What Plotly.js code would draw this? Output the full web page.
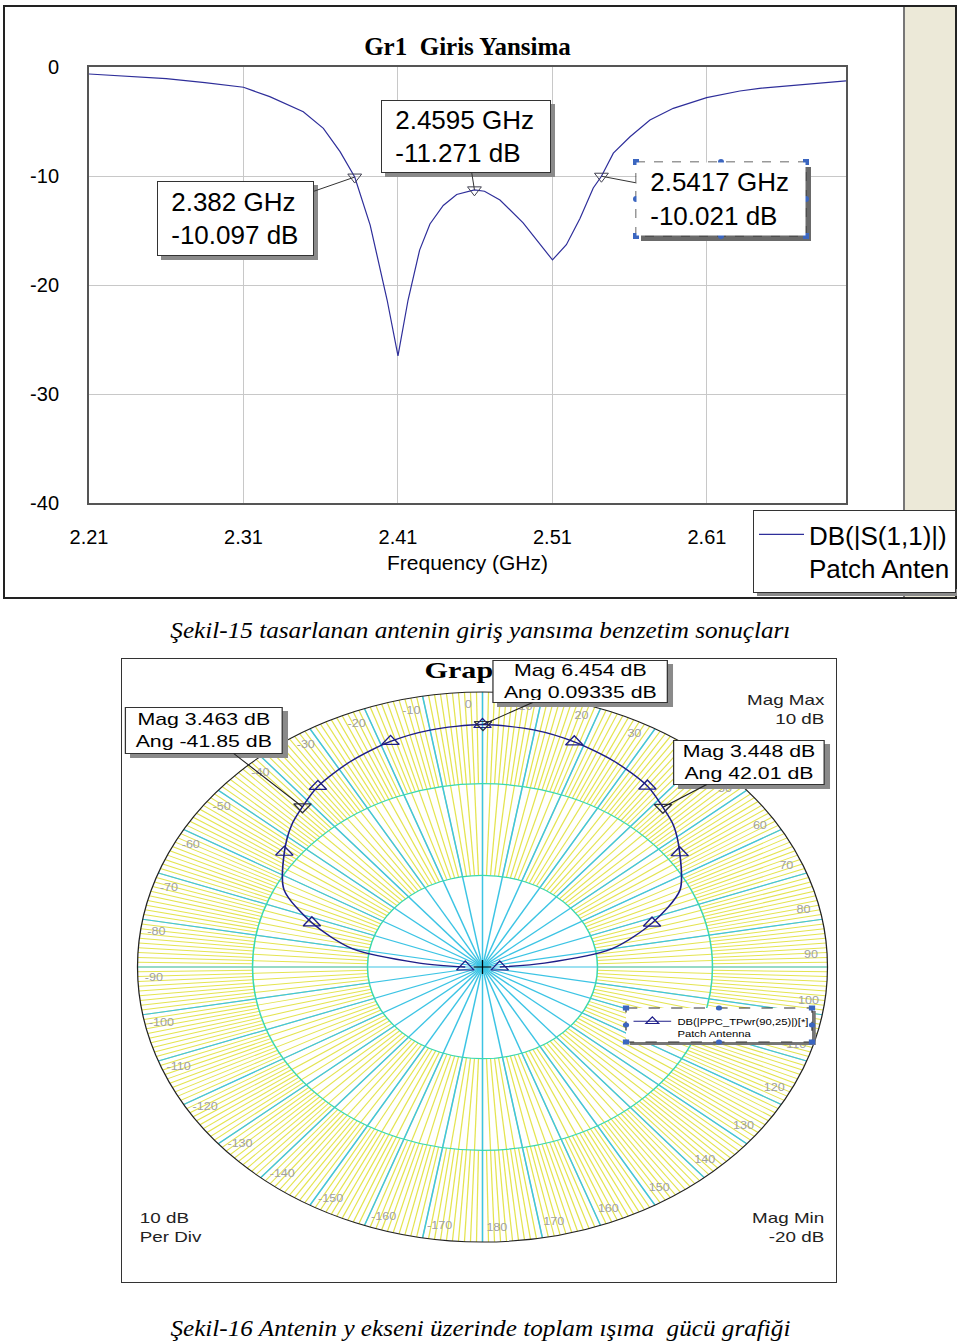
<!DOCTYPE html>
<html><head><meta charset="utf-8">
<script src="https://cdn.plot.ly/plotly-3.0.1.min.js"></script>
<style>
body{margin:0;width:960px;height:1343px;position:relative;background:#fff;overflow:hidden;font-family:"Liberation Sans",Arial,sans-serif}
#frame1{position:absolute;left:3px;top:5px;width:950px;height:590px;border:2px solid #222;}
#strip{position:absolute;left:903px;top:7px;width:50px;height:590px;background:#ece9d8;border-left:2px solid #777;}
#top{position:absolute;left:0;top:0;width:957px;height:605px;}
#frame2{position:absolute;left:121px;top:658px;width:714px;height:623px;border:1px solid #333;}
#bottom{position:absolute;left:121px;top:658px;width:570px;height:624px;transform:scaleX(1.2545);transform-origin:0 0;}
.cap{position:absolute;left:0;width:960px;text-align:center;white-space:pre;font-family:"Liberation Serif","Times New Roman",serif;font-style:italic;font-size:24px;line-height:26px;color:#000}
.cap span{display:inline-block;transform-origin:50% 50%;}
</style></head>
<body>
<div id="frame1"></div>
<div id="strip"></div>
<div id="top"></div>
<div class="cap" id="cap1" style="top:617px"><span>Şekil-15 tasarlanan antenin giriş yansıma benzetim sonuçları</span></div>
<div id="frame2"></div>
<div id="bottom"></div>
<div class="cap" id="cap2" style="top:1315px"><span>Şekil-16 Antenin y ekseni üzerinde toplam ışıma  gücü grafiği</span></div>
<script>
// ================= DATA =================
// Chart 1: input reflection S11 (dB) vs frequency (GHz)
const freqGHz = [2.21,2.26,2.285,2.31,2.327,2.3487,2.3617,2.3725,2.382,2.3897,2.392,2.403,2.41,2.4165,2.424,2.4307,2.4393,2.448,2.4595,2.466,2.476,2.491,2.51,2.519,2.5278,2.5364,2.5417,2.5494,2.5602,2.5731,2.5882,2.6098,2.6313,2.644,2.668,2.70];
const s11dB = [-0.64,-1.07,-1.43,-1.86,-2.72,-4.10,-5.63,-7.77,-10.097,-13.6,-14.5,-21.4,-26.5,-21.4,-16.8,-14.4,-12.7,-11.7,-11.271,-11.4,-12.2,-14.3,-17.7,-16.3,-13.9,-11.1,-10.021,-7.9,-6.4,-4.86,-3.79,-2.81,-2.2,-1.96,-1.65,-1.28];
const markerFreq = [2.382, 2.4595, 2.5417];
const markerDb = [-10.097, -11.271, -10.021];
const s11Name = "DB(|S(1,1)|)<br>Patch Anten";
const freqTickStart = 2.21, freqTickStep = 0.1;
const yTickVals = [0, -10, -20, -30, -40];
const yTickText = ['0', '-10', '-20', '-30', '-40'];

// Chart 2: radiation pattern (dB) vs angle (deg)
const patternAngDeg = [-90,-85.5,-80,-72,-64,-54,-47,-41.85,-36,-27,-18,-10,0,10,18,27,36,42.01,47,54,64,72,80,85.5,90];
const patternDb = [-18.5,-14.5,-8.5,-4.4,-0.8,1.3,2.7,3.463,4.35,5.2,5.88,6.25,6.454,6.25,5.83,5.2,4.4,3.448,2.7,1.2,-0.9,-4.5,-8.6,-14.6,-18.5];
const markAngDeg = [-41.85, 0.09335, 42.01];
const markMagDb = [3.463, 6.454, 3.448];
// angle labels visible around the rim (40 is hidden under a marker box in the original)
const angleTickVals = [0,10,20,30,50,60,70,80,90,100,110,120,130,140,150,160,170,180,-10,-20,-30,-40,-50,-60,-70,-80,-90,-100,-110,-120,-130,-140,-150,-160,-170];
const magMin = -20, magMax = 10, magPerDiv = 10;
const patternName = "DB(|PPC_TPwr(90,25)|)[*]<br>Patch Antenna";
const polarTitleVisible = "Grap";

// ================= CHART 1 =================
const FONT = "Liberation Sans, Arial, sans-serif";
const TW = 957, TH = 605, L = 89, R1 = 846, T = 67, B = 503;
const xRange = [2.21, 2.70], yRange = [-40, 0];
const px = X => (X - L) / (R1 - L);
const py = Y => (B - Y) / (B - T);
const headPx = (f, d) => [L + (f - xRange[0]) / (xRange[1] - xRange[0]) * (R1 - L),
                          B - (d - yRange[0]) / (yRange[1] - yRange[0]) * (B - T)];
const NAVY = '#2e2e9a';

function topBox(i, box, dashed) {
  const [x0, y0, x1, y1] = box;
  const h = headPx(markerFreq[i], markerDb[i]);
  const cx = (x0 + x1) / 2, cy = (y0 + y1) / 2;
  const pad = 6;
  return {
    x: markerFreq[i], y: markerDb[i], xref: 'x', yref: 'y',
    ax: cx - h[0], ay: cy - h[1], axref: 'pixel', ayref: 'pixel',
    showarrow: true, arrowhead: 0, arrowwidth: 1, arrowcolor: '#333',
    text: '\u00a0' + markerFreq[i] + ' GHz<br>\u00a0' + markerDb[i] + ' dB',
    font: {family: FONT, size: 26, color: '#000'},
    align: 'left', width: (x1 - x0) - 2 * pad - 2, height: (y1 - y0) - 2 * pad - 2,
    borderpad: pad, bgcolor: '#fff',
    bordercolor: dashed ? 'rgba(0,0,0,0)' : '#333', borderwidth: 1
  };
}
const topBoxes = [[157,181,314,256],[381,100,551,173],[636,162,806,236]];
const topAnns = [topBox(0, topBoxes[0]), topBox(1, topBoxes[1]), topBox(2, topBoxes[2], true)];

const topShapes = [];
function shadowShape(b, fx, fy, off, col) {
  return {type:'rect', xref:'paper', yref:'paper', layer:'above',
    x0: fx(b[0] + off), x1: fx(b[2] + off), y0: fy(b[1] + off), y1: fy(b[3] + off),
    fillcolor: col, line: {width: 0}};
}
topShapes.push(shadowShape(topBoxes[0], px, py, 4, '#8a8a8a'));
topShapes.push(shadowShape(topBoxes[1], px, py, 4, '#8a8a8a'));
topShapes.push(shadowShape(topBoxes[2], px, py, 5, '#6a6a6a'));
function handles(b, fx, fy, shapes, hs) {
  const [x0, y0, x1, y1] = b;
  shapes.push({type:'rect', xref:'paper', yref:'paper', layer:'above',
    x0: fx(x0), x1: fx(x1), y0: fy(y0), y1: fy(y1),
    line: {color:'#333', width:1, dash:'dash'}, fillcolor:'rgba(0,0,0,0)'});
  const mx = (x0 + x1) / 2, my = (y0 + y1) / 2;
  [[x0,y0],[x1,y0],[x0,y1],[x1,y1]].forEach(p => shapes.push({type:'rect', xref:'paper', yref:'paper', layer:'above',
    x0: fx(p[0]-hs), x1: fx(p[0]+hs), y0: fy(p[1]-hs), y1: fy(p[1]+hs), fillcolor:'#3b66c0', line:{width:0}}));
  [[mx,y0],[mx,y1],[x0,my],[x1,my]].forEach(p => shapes.push({type:'circle', xref:'paper', yref:'paper', layer:'above',
    x0: fx(p[0]-hs), x1: fx(p[0]+hs), y0: fy(p[1]-hs), y1: fy(p[1]+hs), fillcolor:'#3b66c0', line:{width:0}}));
}
handles(topBoxes[2], px, py, topShapes, 3);
// legend shadow
topShapes.push({type:'rect', xref:'paper', yref:'paper', layer:'above',
  x0: px(757), x1: px(957), y0: py(589), y1: py(596), fillcolor:'#8a8a8a', line:{width:0}});

const topData = [
  {type:'scatter', mode:'lines', x: freqGHz, y: s11dB, name: s11Name,
   line:{color: NAVY, width: 1.2}, hoverinfo:'x+y'},
  {type:'scatter', mode:'markers', x: markerFreq, y: markerDb, showlegend:false,
   marker:{symbol:'triangle-down-open', size:12, color:'#404050', line:{width:1}}}
];
const topLayout = {
  width: TW, height: TH, autosize: false,
  margin: {l: L, r: TW - R1, t: T, b: TH - B, autoexpand: false},
  paper_bgcolor: 'rgba(0,0,0,0)', plot_bgcolor: '#fff',
  title: {text: '<b>Gr1\u00a0 Giris Yansima</b>', font:{family:'Liberation Serif, Times New Roman, serif', size:25, color:'#000'},
          x: 0.5, xref:'paper', xanchor:'center', y: 1 - 46 / TH, yref:'container', yanchor:'middle'},
  xaxis: {range: xRange, tick0: freqTickStart, dtick: freqTickStep, tickformat: '.2f', ticks:'',
          ticklabelstandoff: 15, tickfont:{family:FONT, size:20, color:'#000'},
          showline:true, mirror:true, linecolor:'#555', linewidth:2,
          showgrid:true, gridcolor:'#c8c8c8', gridwidth:1, zeroline:false,
          title:{text:'Frequency (GHz)', font:{family:FONT, size:21, color:'#000'}, standoff: 8}},
  yaxis: {range: yRange, tickmode:'array', tickvals: yTickVals, ticktext: yTickText, ticks:'', ticklabelstandoff: 24,
          tickfont:{family:FONT, size:20, color:'#000'},
          showline:true, mirror:true, linecolor:'#555', linewidth:2,
          showgrid:true, gridcolor:'#c8c8c8', gridwidth:1, zeroline:false},
  showlegend: true,
  legend: {x: px(753), y: py(510), xanchor:'left', yanchor:'top', bgcolor:'#fff',
           bordercolor:'#333', borderwidth:1, font:{family:FONT, size:26, color:'#000'},
           valign:'top', itemwidth: 45},
  annotations: topAnns,
  shapes: topShapes
};
Plotly.newPlot('top', topData, topLayout, {displayModeBar:false, staticPlot:true});

// ================= CHART 2 =================
const S = 1.2545, BW = 570, BH = 624;
const CX = (482.5 - 121) / S, CY = 967 - 658, RAD = 275;
const toU = X => (X - 121) / S, toV = Y => Y - 658;
const bx = u => u / BW, by = v => 1 - v / BH;
const dom = r => ({x: [(CX - r) / BW, (CX + r) / BW], y: [1 - (CY + r) / BH, 1 - (CY - r) / BH]});
function polarPx(angDeg, db) {
  const rr = (db - magMin) / (magMax - magMin) * RAD, a = angDeg * Math.PI / 180;
  return [CX + rr * Math.sin(a), CY - rr * Math.cos(a)];
}
const PNAVY = '#1e1e88';
const yellowAng = dt => ({rotation:90, direction:'clockwise', tick0:0, dtick:dt, showgrid:true,
  gridcolor:'#e4e450', gridwidth:1, showline:false, showticklabels:false, ticks:''});

const is18 = patternAngDeg.map(a => Math.abs(a % 18) === 0);
const triAng = patternAngDeg.filter((a, i) => is18[i]);
const triDb = patternDb.filter((a, i) => is18[i]);

const botData = [
  {type:'scatterpolar', subplot:'polar', r:[], theta:[], showlegend:false, hoverinfo:'skip'},
  {type:'scatterpolar', subplot:'polar2', r:[], theta:[], showlegend:false, hoverinfo:'skip'},
  {type:'scatterpolar', subplot:'polar3', mode:'lines', r: patternDb, theta: patternAngDeg,
   line:{color: PNAVY, width:1.3, shape:'spline', smoothing:0.8}, showlegend:false},
  {type:'scatterpolar', subplot:'polar3', mode:'text', r: angleTickVals.map(() => magMax - 1.4),
   theta: angleTickVals.map(v => v - 2.5), text: angleTickVals.map(String),
   textfont:{family:FONT, size:10, color:'#a0a0a0'}, showlegend:false, hoverinfo:'skip', cliponaxis:false},
  {type:'scatterpolar', subplot:'polar3', mode:'markers', r: triDb, theta: triAng, showlegend:false,
   marker:{symbol:'triangle-up-open', size:12, color: PNAVY, line:{width:1.2}}},
  {type:'scatterpolar', subplot:'polar3', mode:'markers', r: markMagDb, theta: markAngDeg, showlegend:false,
   marker:{symbol:'triangle-down-open', size:12, color:'#303040', line:{width:1.2}}},
  {type:'scatterpolar', subplot:'polar3', mode:'markers', r:[magMin], theta:[0], showlegend:false,
   marker:{symbol:'cross-thin-open', size:10, color:'#000', line:{width:1, color:'#000'}}},
  {type:'scatterpolar', subplot:'polar3', mode:'lines+markers', r:[null], theta:[null], name: patternName,
   line:{color: PNAVY, width:1}, marker:{symbol:'triangle-up-open', size:9, color: PNAVY, line:{width:1}}}
];

const botBoxes = [[125,707,283,754],[492,660,668,703],[673,740,825,785]];
function botBox(i, b) {
  const u0 = toU(b[0]), u1 = toU(b[2]), v0 = toV(b[1]), v1 = toV(b[3]);
  const h = polarPx(markAngDeg[i], markMagDb[i]);
  const pad = 2;
  return {xref:'paper', yref:'paper', x: bx(h[0]), y: by(h[1]),
    ax: (u0 + u1) / 2 - h[0], ay: (v0 + v1) / 2 - h[1], axref:'pixel', ayref:'pixel',
    showarrow:true, arrowhead:0, arrowwidth:1, arrowcolor:'#222',
    text: 'Mag ' + markMagDb[i] + ' dB<br>Ang ' + markAngDeg[i] + ' dB',
    font:{family:FONT, size:17, color:'#000'}, align:'center',
    width: (u1 - u0) - 2 * pad - 2, height: (v1 - v0) - 2 * pad - 2, borderpad: pad,
    bgcolor:'#fff', bordercolor:'#333', borderwidth:1};
}
const botAnns = [
  {xref:'paper', yref:'paper', x: bx(toU(422)), y: by(12), xanchor:'left', yanchor:'middle', showarrow:false,
   text:'<b>' + polarTitleVisible + '</b>', font:{family:'Liberation Serif, Times New Roman, serif', size:24, color:'#000'}},
  botBox(0, botBoxes[0]), botBox(1, botBoxes[1]), botBox(2, botBoxes[2]),
  {xref:'paper', yref:'paper', x: bx(toU(827)), y: by(toV(709.5)), xanchor:'right', yanchor:'middle', align:'right',
   showarrow:false, text:'Mag Max<br>' + magMax + ' dB', font:{family:FONT, size:15, color:'#222'}},
  {xref:'paper', yref:'paper', x: bx(toU(827)), y: by(toV(1227)), xanchor:'right', yanchor:'middle', align:'right',
   showarrow:false, text:'Mag Min<br>' + magMin + ' dB', font:{family:FONT, size:15, color:'#222'}},
  {xref:'paper', yref:'paper', x: bx(toU(137)), y: by(toV(1227)), xanchor:'left', yanchor:'middle', align:'left',
   showarrow:false, text: magPerDiv + ' dB<br>Per Div', font:{family:FONT, size:15, color:'#222'}}
];
const botShapes = [];
botBoxes.forEach(b => botShapes.push({type:'rect', xref:'paper', yref:'paper', layer:'above',
  x0: bx(toU(b[0]) + 4), x1: bx(toU(b[2]) + 4), y0: by(toV(b[1]) + 4), y1: by(toV(b[3]) + 4),
  fillcolor:'#8a8a8a', line:{width:0}}));
const legBox = [626, 1008, 812, 1042];
botShapes.push({type:'rect', xref:'paper', yref:'paper', layer:'above',
  x0: bx(toU(legBox[0]) + 3), x1: bx(toU(legBox[2]) + 3), y0: by(toV(legBox[1]) + 3), y1: by(toV(legBox[3]) + 3),
  fillcolor:'#777', line:{width:0}});
botShapes.push({type:'rect', xref:'paper', yref:'paper', layer:'above',
  x0: bx(toU(legBox[0])), x1: bx(toU(legBox[2])), y0: by(toV(legBox[1])), y1: by(toV(legBox[3])),
  fillcolor:'#fff', line:{width:0}});
handles([toU(legBox[0]), toV(legBox[1]), toU(legBox[2]), toV(legBox[3])], bx, by, botShapes, 2.5);

const botLayout = {
  width: BW, height: BH, autosize:false,
  margin:{l:0, r:0, t:0, b:0, autoexpand:false},
  paper_bgcolor:'rgba(0,0,0,0)',
  polar: {domain: dom(RAD), hole: 2/3, bgcolor:'#fff', angularaxis: yellowAng(1),
          radialaxis:{visible:false, range:[0, magMax]}},
  polar2: {domain: dom(RAD * 2 / 3), hole: 0.5, bgcolor:'#fff', angularaxis: yellowAng(2),
          radialaxis:{visible:false, range:[-10, 0]}},
  polar3: {domain: dom(RAD), bgcolor:'rgba(0,0,0,0)',
    angularaxis:{rotation:90, direction:'clockwise', tick0:0, dtick:10, showgrid:true, gridcolor:'#3cc4e4', gridwidth:1.2,
                 showline:true, linecolor:'#222', linewidth:1, showticklabels:false, ticks:''},
    radialaxis:{range:[magMin, magMax], tickvals:[-10, 0], showgrid:true, gridcolor:'#3ad8b0', gridwidth:1.2,
                showline:false, showticklabels:false, ticks:''}},
  showlegend: true,
  legend: {x: bx(toU(legBox[0]) + 1), y: by(toV(legBox[1]) + 1), xanchor:'left', yanchor:'top',
           bgcolor:'rgba(0,0,0,0)', borderwidth:0, font:{family:FONT, size:9, color:'#000'},
           itemwidth:30, valign:'top'},
  annotations: botAnns,
  shapes: botShapes
};
Plotly.newPlot('bottom', botData, botLayout, {displayModeBar:false, staticPlot:true});

// caption width fit (170..790 in the reference)
function fitCap(id) {
  const sp = document.querySelector('#' + id + ' span');
  const w = sp.getBoundingClientRect().width;
  if (w > 0) sp.style.transform = 'scaleX(' + (620 / w) + ')';
}
fitCap('cap1'); fitCap('cap2');
</script>
</body></html>
